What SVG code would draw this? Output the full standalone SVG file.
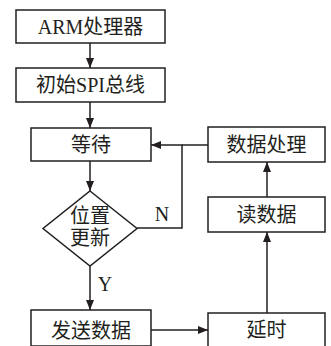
<svg xmlns="http://www.w3.org/2000/svg" width="331" height="346" viewBox="0 0 331 346">
<style>
.box{fill:#fff;stroke:#231f20;stroke-width:1.5}
.t{font-family:"Liberation Serif","Noto Sans CJK SC",serif;font-size:20px;fill:#231f20;text-anchor:middle;dominant-baseline:central}
.c{fill:none;stroke:#231f20;stroke-width:1.5}
</style>
<defs>
<marker id="ah" viewBox="0 0 10 8" refX="10" refY="4" markerWidth="10" markerHeight="8" markerUnits="userSpaceOnUse" orient="auto">
<path d="M0,0 L10,4 L0,8 Z" fill="#231f20"/>
</marker>
</defs>
<rect width="331" height="346" fill="#fff"/>
<g id="connectors">
<path class="c" d="M90,43 V68" marker-end="url(#ah)"/>
<path class="c" d="M90,102 V128" marker-end="url(#ah)"/>
<path class="c" d="M90,161 V191" marker-end="url(#ah)"/>
<path class="c" d="M90,266 V310" marker-end="url(#ah)"/>
<path class="c" d="M137,228 H182 V145 H151" marker-end="url(#ah)"/>
<path class="c" d="M208,145 H182"/>
<path class="c" d="M151,330 H208" marker-end="url(#ah)"/>
<path class="c" d="M267,313 V232" marker-end="url(#ah)"/>
<path class="c" d="M267,197 V162" marker-end="url(#ah)"/>
<text class="t" x="162" y="214">N</text>
<text class="t" x="105" y="284">Y</text>
</g>
<g id="arm">
<rect class="box" x="16" y="10" width="149" height="33"/>
<text class="t" x="90.5" y="26.5">ARM处理器</text>
</g>
<g id="spi">
<rect class="box" x="16" y="68" width="149" height="34"/>
<text class="t" x="90.5" y="85">初始SPI总线</text>
</g>
<g id="wait">
<rect class="box" x="31" y="128" width="120" height="33"/>
<text class="t" x="91" y="144.5">等待</text>
</g>
<g id="decision">
<polygon class="box" points="90,191 137,228.5 90,266 43,228.5"/>
<text class="t" x="90" y="216">位置</text>
<text class="t" x="90" y="238">更新</text>
</g>
<g id="send">
<rect class="box" x="31" y="310" width="120" height="36"/>
<text class="t" x="91" y="331">发送数据</text>
</g>
<g id="delay">
<rect class="box" x="208" y="313" width="117" height="34"/>
<text class="t" x="266.5" y="330">延时</text>
</g>
<g id="read">
<rect class="box" x="208" y="197" width="117" height="35"/>
<text class="t" x="266.5" y="214.5">读数据</text>
</g>
<g id="process">
<rect class="box" x="208" y="127" width="117" height="35"/>
<text class="t" x="266.5" y="144.5">数据处理</text>
</g>
</svg>
